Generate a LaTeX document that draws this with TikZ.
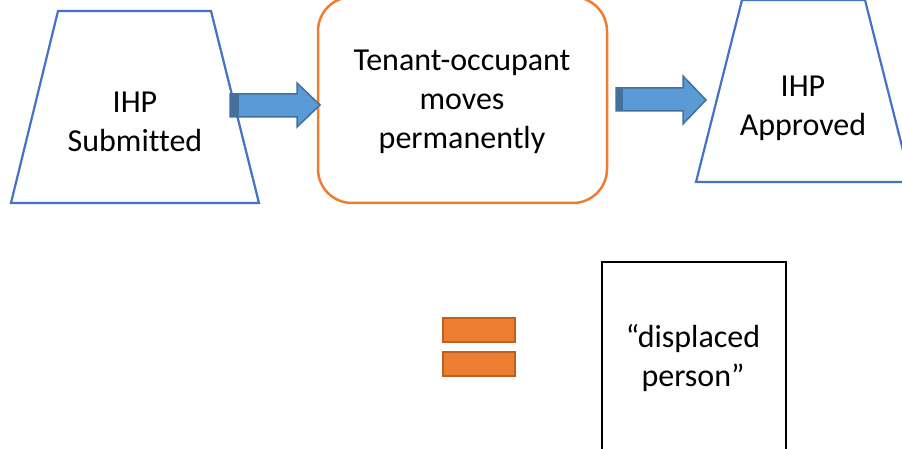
\documentclass[tikz,border=0pt]{standalone}
\usepackage{fontspec}
\setmainfont{Carlito}[Ligatures=NoCommon]
\usetikzlibrary{calc}
\begin{document}
\begin{tikzpicture}[x=1pt,y=-1pt,
  lbl/.style={align=center,inner sep=0pt,font=\fontsize{32}{39}\selectfont},
  stageshape/.style={draw=stageblue,line width=2.2pt,line join=miter},
  blockarrow/.style={fill=arrowfill,draw=arrowedge,line width=1.5pt,line join=miter},
  barstyle/.style={fill=eqorange,draw=eqedge,line width=2pt}]
\definecolor{stageblue}{HTML}{4472C4}
\definecolor{arrowfill}{HTML}{5B9BD5}
\definecolor{arrowedge}{HTML}{41719C}
\definecolor{eqorange}{HTML}{ED7D31}
\definecolor{eqedge}{HTML}{C0601E}
\useasboundingbox (0,0) rectangle (902,449);
\clip (0,0) rectangle (902,449);

% stage shapes
\draw[stageshape] (58,11) -- (211,11) -- (259,203) -- (11,203) -- cycle;
\draw[stageshape] (742,0) -- (865,0) -- (911,182) -- (696,182) -- cycle;
\draw[draw=eqorange,line width=2.5pt,rounded corners=34pt] (318,-3) rectangle (607,203);
\draw[line width=2.5pt] (602,262) rectangle (786,470);

% labels
\node[lbl] (submitted) at (135,122) {IHP\\Submitted};
\node[lbl] (moves) at (462,102) {Tenant-occupant\\moves\\permanently};
\node[lbl] (approved) at (803,108) {IHP\\Approved};
\node[lbl] (displaced) at (693,358) {“displaced\\person”};

% anchor points of the block arrows
\coordinate (a1s) at (230,105.5);
\coordinate (a1t) at (320,105);
\coordinate (a2s) at (616,99.5);
\coordinate (a2t) at (706,100);

% block arrow 1
\draw[blockarrow] ($(a1s)+(0,-11.5)$) -- (297,94) -- (297,83) -- (a1t) -- (297,127) -- (297,117) -- ($(a1s)+(0,11.5)$) -- cycle;
\fill[arrowedge] (230,94) rectangle (239,117);
% block arrow 2
\draw[blockarrow] ($(a2s)+(0,-11.5)$) -- (683,88) -- (683,76) -- (a2t) -- (683,124) -- (683,111) -- ($(a2s)+(0,11.5)$) -- cycle;
\fill[arrowedge] (616,88) rectangle (623,111);

% equals sign
\draw[barstyle] (443,318) rectangle (515,342);
\draw[barstyle] (443,352) rectangle (515,376);
\end{tikzpicture}
\end{document}
